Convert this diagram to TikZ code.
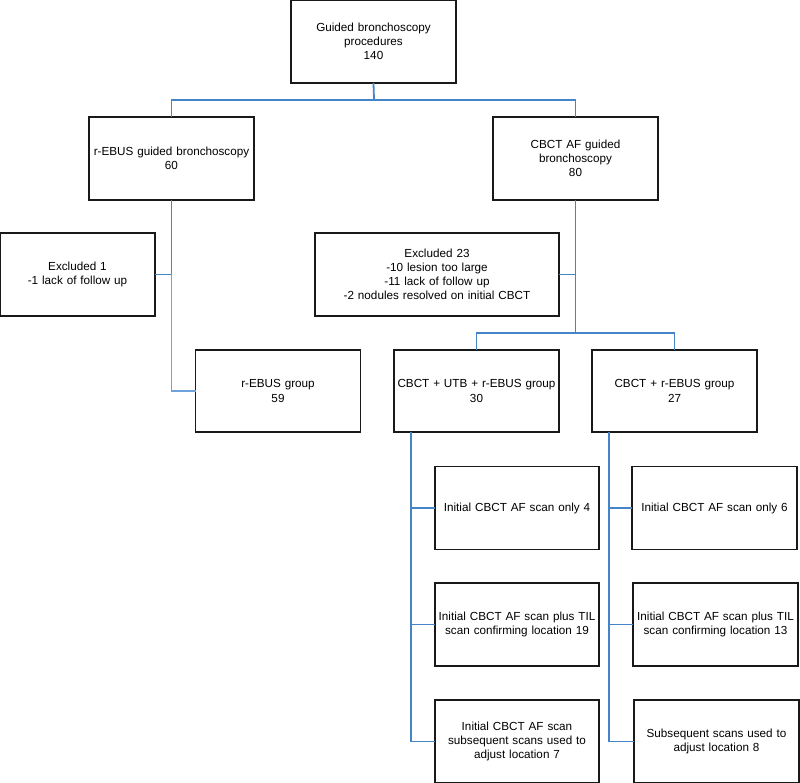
\documentclass[tikz,border=0pt]{standalone}
\usepackage{fontspec}
\setmainfont{Liberation Sans}
\definecolor{linkblue}{RGB}{70,132,200}
\definecolor{linkblue2}{RGB}{110,162,220}
\begin{document}
\begin{tikzpicture}[x=1pt,y=-1pt,
  box/.style={draw=black!90,line width=1.9pt,inner sep=2pt,outer sep=0pt,align=center,
    font=\fontsize{11.7}{14.2}\selectfont},
  w165/.style={minimum width=165pt,minimum height=83pt,text width=160pt},
  conn/.style={draw=linkblue,line width=1.8pt},
  thinconn/.style={draw=linkblue2,line width=1.1pt}]
\useasboundingbox (0,0) rectangle (800,783);
% nodes
\node[box,w165] (top) at (373.5,41.5) {Guided bronchoscopy\\procedures\\140};
\node[box,w165] (rebus) at (171.5,158.5) {r-EBUS guided bronchoscopy\\60};
\node[box,w165] (cbct) at (575.5,158.5) {CBCT AF guided\\bronchoscopy\\80};
\node[box,minimum width=155pt,minimum height=83pt,text width=150pt] (exc1) at (77.5,274.5) {Excluded 1\\-1 lack of follow up};
\node[box,minimum width=244pt,minimum height=83pt,text width=238pt] (exc23) at (437,274.5) {Excluded 23\\-10 lesion too large\\-11 lack of follow up\\-2 nodules resolved on initial CBCT};
\node[box,w165,minimum height=82pt] (grp1) at (278,391) {r-EBUS group\\59};
\node[box,w165,minimum height=82pt] (grp2) at (476.5,391) {CBCT + UTB + r-EBUS group\\30};
\node[box,w165,minimum height=82pt] (grp3) at (674.5,391) {CBCT + r-EBUS group\\27};
\node[box,w165,minimum width=164pt] (l1) at (517,508) {Initial CBCT AF scan only 4};
\node[box,w165,minimum width=164pt] (l2) at (517,624.5) {Initial CBCT AF scan plus TIL\\scan confirming location 19};
\node[box,w165,minimum width=164pt] (l3) at (517,741.5) {Initial CBCT AF scan\\subsequent scans used to\\adjust location 7};
\node[box,w165] (r1) at (714.5,508) {Initial CBCT AF scan only 6};
\node[box,w165] (r2) at (715.5,624.5) {Initial CBCT AF scan plus TIL\\scan confirming location 13};
\node[box,w165] (r3) at (716.5,741.5) {Subsequent scans used to\\adjust location 8};
% junctions
\coordinate (j1) at (374,100);
\coordinate (j2) at (575.5,333);
\coordinate (lc) at (411,432);
\coordinate (rc) at (609,432);
% connectors
\draw[conn] (top.south) -- (j1);
\draw[conn] (rebus.north) |- (j1) -| (cbct.north);
\draw[conn] (rebus.south) -- (rebus.south |- exc1.east) -- (exc1.east);
\draw[thinconn] (rebus.south |- exc1.east) |- (grp1.west);
\draw[conn] (cbct.south) -- (cbct.south |- exc23.east) -- (exc23.east);
\draw[conn] (cbct.south |- exc23.east) -- (j2);
\draw[conn] (grp2.north) |- (j2) -| (grp3.north);
\draw[conn] (lc) |- (l3.west);
\draw[conn] (lc |- l1.west) -- (l1.west);
\draw[conn] (lc |- l2.west) -- (l2.west);
\draw[conn] (rc) |- (r3.west);
\draw[conn] (rc |- r1.west) -- (r1.west);
\draw[conn] (rc |- r2.west) -- (r2.west);
\end{tikzpicture}
\end{document}
